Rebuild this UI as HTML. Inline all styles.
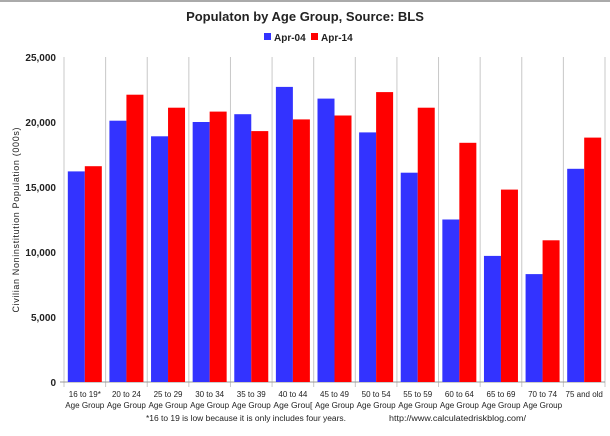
<!DOCTYPE html>
<html><head><meta charset="utf-8"><style>
body{margin:0;background:#fff;}
svg text{font-family:"Liberation Sans",sans-serif;}
</style></head><body>
<svg width="610" height="431" xmlns="http://www.w3.org/2000/svg">
<rect x="0" y="0" width="610" height="431" fill="#fff"/>
<rect x="0" y="0" width="610" height="2" fill="#aaa"/>
<text x="305" y="21" text-anchor="middle" font-size="13" font-weight="bold" fill="#222">Populaton by Age Group, Source: BLS</text>
<g>
<rect x="264" y="33" width="7" height="7" fill="#3333ff"/>
<text x="274" y="41" font-size="10" font-weight="bold" fill="#222">Apr-04</text>
<rect x="311" y="33" width="7" height="7" fill="#ff0000"/>
<text x="321" y="41" font-size="10" font-weight="bold" fill="#222">Apr-14</text>
</g>
<text transform="translate(19,220) rotate(-90)" text-anchor="middle" font-size="9" fill="#222" textLength="185">Civilian Noninstitution Population (000s)</text>
<g id="plot"></g>
<text x="146" y="421" font-size="8" fill="#222" textLength="200" lengthAdjust="spacingAndGlyphs">*16 to 19 is low because it is only includes four years.</text>
<text x="389" y="421" font-size="8" fill="#222" textLength="137" lengthAdjust="spacingAndGlyphs">http://www.calculatedriskblog.com/</text>
</svg>
<script>
const categories=["16 to 19*","20 to 24","25 to 29","30 to 34","35 to 39","40 to 44","45 to 49","50 to 54","55 to 59","60 to 64","65 to 69","70 to 74","75 and old"];
const apr04=[16200,20100,18900,20000,20600,22700,21800,19200,16100,12500,9700,8300,16400];
const apr14=[16600,22100,21100,20800,19300,20200,20500,22300,21100,18400,14800,10900,18800];
const yTicks=[0,5000,10000,15000,20000,25000];
const yTickLabels=["0","5,000","10,000","15,000","20,000","25,000"];
const NS="http://www.w3.org/2000/svg";
const g=document.getElementById('plot');
const x0=64,x1=605,yTop=57,yBot=382,yMax=25000;
const cw=(x1-x0)/categories.length;
const y=v=>yBot-(v/yMax)*(yBot-yTop);
const xc=i=>x0+i*cw;
function mk(t,a){const e=document.createElementNS(NS,t);for(const k in a)e.setAttribute(k,a[k]);g.appendChild(e);return e;}
for(let i=0;i<=categories.length;i++){
 const l=mk('line',{x1:xc(i),x2:xc(i),y1:yTop,y2:yBot+5,stroke:'#c8c8c8','stroke-width':1});
 
 
}
const ax=mk('line',{x1:x0-4,x2:x1,y1:yBot,y2:yBot,stroke:'#999','stroke-width':1});


yTicks.forEach((v,i)=>{
 const t=mk('text',{x:56,y:y(v)+4,'text-anchor':'end','font-size':10,'font-weight':'bold',fill:'#222'});
 t.textContent=yTickLabels[i];
 
 
});
const bw=17;
categories.forEach((c,i)=>{
 const cx=xc(i)+cw/2;
 const b1=mk('rect',{x:cx-bw,y:y(apr04[i]),width:bw,height:yBot-y(apr04[i]),fill:'#3333ff'});
 
 
 const b2=mk('rect',{x:cx,y:y(apr14[i]),width:bw,height:yBot-y(apr14[i]),fill:'#ff0000'});
 
 
 const t=mk('text',{x:cx,y:397,'text-anchor':'middle','font-size':8,fill:'#222'});
 t.textContent=c;
 
 
 if(i<categories.length-1){
  const t2=mk('text',{x:cx,y:408,'text-anchor':'middle','font-size':8,fill:'#222',textLength:39,lengthAdjust:'spacingAndGlyphs'});
  t2.textContent=i==5?'Age Grou[':'Age Group';
  
  
 }
});
</script>
</body></html>
